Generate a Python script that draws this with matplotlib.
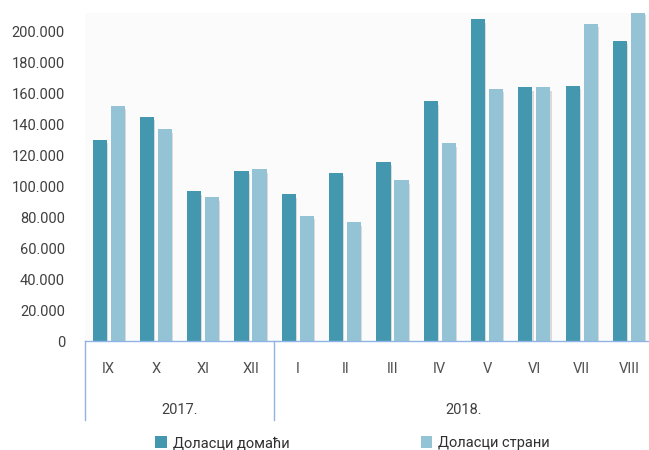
import matplotlib
matplotlib.use("Agg")
import matplotlib.pyplot as plt
import matplotlib.patheffects as pe
from matplotlib.patches import Patch
from matplotlib.ticker import FuncFormatter
import matplotlib.transforms as mtransforms
import numpy as np

months = ["IX", "X", "XI", "XII", "I", "II", "III", "IV", "V", "VI", "VII", "VIII"]
years = ["2017.", "2018."]
year_spans = [(0, 3), (4, 11)]
domestic = [130, 145, 97, 110, 95, 109, 116, 155, 208, 164, 165, 194]   # thousands
foreign = [152, 137, 93, 111, 81, 77, 104, 128, 163, 164, 205, 213]      # thousands
series_names = ["Доласци домаћи", "Доласци страни"]
colors = ["#4397AF", "#93C3D5"]

plt.rcParams['font.family'] = ['Roboto', 'DejaVu Sans']
FS = 10.5

fig = plt.figure(figsize=(6.49, 4.5), dpi=100)
ax = fig.add_axes([85/649, (450-341.3)/450, (652.6-85)/649, (341.3-13)/450])
ax.set_facecolor('#fbfbfb')

x = np.arange(len(months))
w = 0.30
off = 0.19
shadow = [pe.SimplePatchShadow(offset=(0.8, -2.5), shadow_rgbFace='#909090', alpha=0.3), pe.Normal()]
for vals, c, d in [(domestic, colors[0], -off), (foreign, colors[1], off)]:
    bars = ax.bar(x + d, vals, width=w, color=c, zorder=3)
    for b in bars:
        b.set_path_effects(shadow)

ax.set_xlim(-0.5, len(months) - 0.5)
ax.set_ylim(0, 212)
ax.set_yticks(np.arange(0, 201, 20))
ax.yaxis.set_major_formatter(FuncFormatter(lambda v, p: "0" if v == 0 else f"{int(v)}.000"))
ax.tick_params(axis='y', length=0, pad=14.4, labelsize=FS, labelcolor='#404040')
ax.set_xticks(x)
ax.set_xticklabels(months)
ax.tick_params(axis='x', length=0, pad=15, labelsize=FS, labelcolor='#505050')
for s in ['left', 'right', 'top']:
    ax.spines[s].set_visible(False)
ax.spines['bottom'].set_color('#8FB4E3')
ax.spines['bottom'].set_linewidth(1.0)
ax.spines['bottom'].set_zorder(5)

trans = mtransforms.blended_transform_factory(ax.transData, ax.transAxes)
depth = -(420 - 341.3) / 328.3
for xs in [-0.5, 3.5, 11.5]:
    ax.plot([xs, xs], [0, depth], transform=trans, color='#8FB4E3', lw=1.0, clip_on=False)
for (a, b), yl in zip(year_spans, years):
    ax.text((a + b) / 2, -(410 - 341.3) / 328.3, yl, transform=trans, ha='center', va='center',
            fontsize=FS, color='#404040')

handles = [Patch(facecolor=c, edgecolor='none') for c in colors]
fig.legend(handles, series_names, loc='center left', bbox_to_anchor=(142/649, 1 - 443/450),
           ncol=2, frameon=False, fontsize=FS, handlelength=0.8, handleheight=0.8,
           handletextpad=0.4, columnspacing=9.0, labelcolor='#303030')

fig.savefig("out.png", dpi=100)
